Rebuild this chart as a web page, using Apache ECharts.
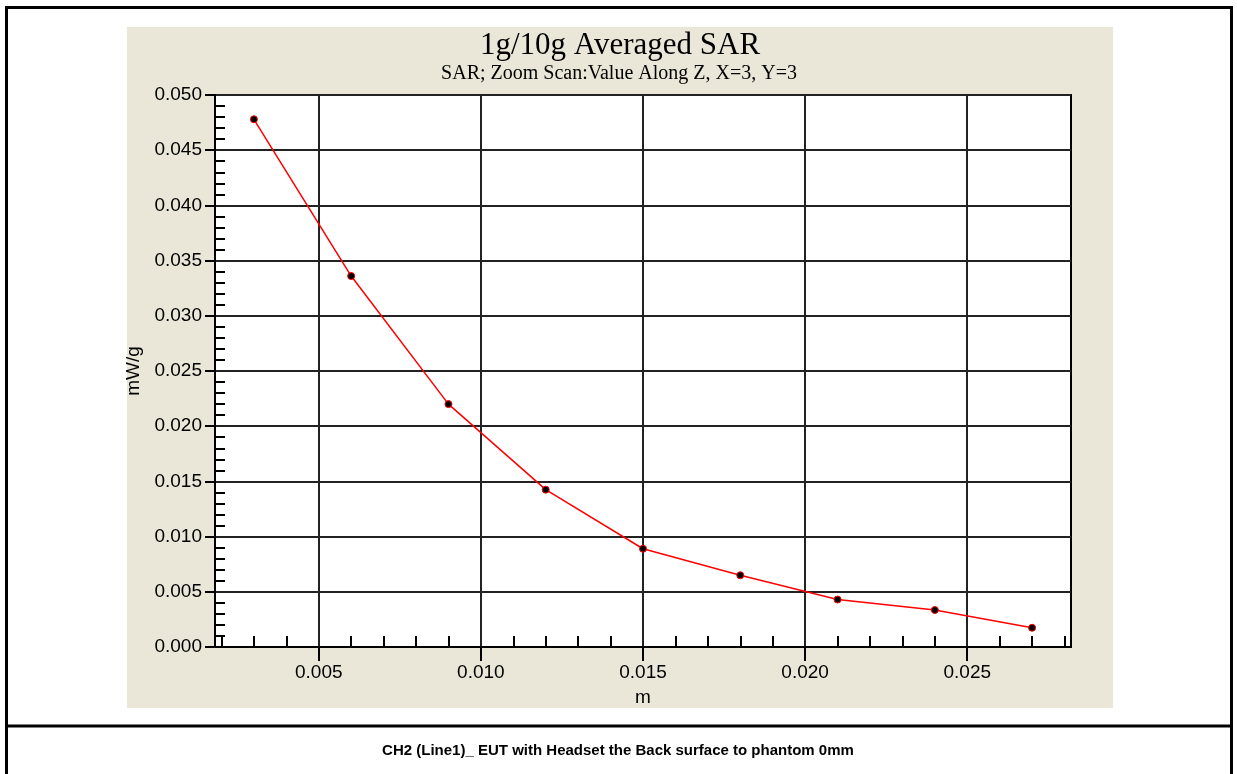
<!DOCTYPE html>
<html>
<head>
<meta charset="utf-8">
<title>1g/10g Averaged SAR</title>
<script src="https://cdn.jsdelivr.net/npm/echarts@6/dist/echarts.min.js"></script>
<style>
html, body { margin: 0; padding: 0; background: #fff; }
#main { width: 1237px; height: 774px; }
</style>
</head>
<body>
<div id="main"></div>
<script>
// data
var depthM = [0.003, 0.006, 0.009, 0.012, 0.015, 0.018, 0.021, 0.024, 0.027];
var sarMWg = [0.0478, 0.0336, 0.0220, 0.01425, 0.0089, 0.0065, 0.0043, 0.00335, 0.00174];
var xTickValues = [0.005, 0.010, 0.015, 0.020, 0.025];

var titleText = '1g/10g Averaged SAR';
var subTitleText = 'SAR; Zoom Scan:Value Along Z, X=3, Y=3';
var captionText = 'CH2 (Line1)_ EUT with Headset the Back surface to phantom 0mm';
var xName = 'm';
var yName = 'mW/g';

var sans = 'Liberation Sans, Arial, sans-serif';
var serif = 'Liberation Serif, Times New Roman, serif';

var myChart = echarts.init(document.getElementById('main'));

var option = {
    backgroundColor: '#fff',
    animation: false,
    graphic: [
        // beige panel behind the plot
        { type: 'rect', z: -10, shape: { x: 127, y: 27, width: 986, height: 681 }, style: { fill: '#EAE7D8' } },
        // outer frame + divider
        { type: 'rect', z: 100, shape: { x: 6.5, y: 7.5, width: 1225, height: 820 }, style: { fill: null, stroke: '#000', lineWidth: 3 } },
        { type: 'line', z: 100, shape: { x1: 6, y1: 726, x2: 1232, y2: 726 }, style: { stroke: '#000', lineWidth: 3 } },
        // titles
        { type: 'text', z: 50, x: 620, y: 46, style: { text: titleText, font: '31px ' + serif, fill: '#000', textAlign: 'center', textVerticalAlign: 'middle' } },
        { type: 'text', z: 50, x: 619, y: 74, style: { text: subTitleText, font: '20px ' + serif, fill: '#000', textAlign: 'center', textVerticalAlign: 'middle' } },
        // caption
        { type: 'text', z: 50, x: 618, y: 751, style: { text: captionText, font: 'bold 15px ' + sans, fill: '#000', textAlign: 'center', textVerticalAlign: 'middle' } }
    ],
    grid: {
        left: 215,
        right: 166,
        top: 95,
        bottom: 127,
        show: true,
        backgroundColor: '#fff',
        borderColor: '#000',
        borderWidth: 2
    },
    xAxis: {
        type: 'value',
        min: 0.0018,
        max: 0.0282,
        splitNumber: 5,
        name: xName,
        nameLocation: 'middle',
        nameGap: 41,
        nameTextStyle: { fontFamily: sans, fontSize: 19, color: '#000' },
        axisLine: { show: true, onZero: false, lineStyle: { color: '#000', width: 2 } },
        axisTick: { show: true, length: 14, customValues: xTickValues, lineStyle: { color: '#000', width: 2 } },
        minorTick: { show: true, splitNumber: 5, length: -11, lineStyle: { color: '#000', width: 2 } },
        axisLabel: {
            margin: 16, fontFamily: sans, fontSize: 19, color: '#000',
            customValues: xTickValues,
            formatter: function (v) { return v.toFixed(3); }
        },
        splitLine: { show: true, lineStyle: { color: '#222', width: 2 } }
    },
    yAxis: {
        type: 'value',
        min: 0,
        max: 0.05,
        interval: 0.005,
        name: yName,
        nameLocation: 'middle',
        nameRotate: 90,
        nameGap: 63,
        nameTextStyle: { fontFamily: sans, fontSize: 19, color: '#000' },
        axisLine: { show: true, onZero: false, lineStyle: { color: '#000', width: 2 } },
        axisTick: { show: true, length: 10, lineStyle: { color: '#000', width: 2 } },
        minorTick: { show: true, splitNumber: 5, length: -10, lineStyle: { color: '#000', width: 2 } },
        axisLabel: {
            margin: 13, fontFamily: sans, fontSize: 19, color: '#000',
            formatter: function (v) { return v.toFixed(3); }
        },
        splitLine: { show: true, lineStyle: { color: '#222', width: 2 } }
    },
    series: [{
        name: 'SAR',
        type: 'line',
        data: depthM.map(function (x, i) { return [x, sarMWg[i]]; }),
        symbol: 'circle',
        symbolSize: 7,
        lineStyle: { color: '#ff0000', width: 1.5 },
        itemStyle: { color: '#000', borderColor: '#ff0000', borderWidth: 1 },
        z: 5
    }]
};

myChart.setOption(option);
</script>
</body>
</html>
